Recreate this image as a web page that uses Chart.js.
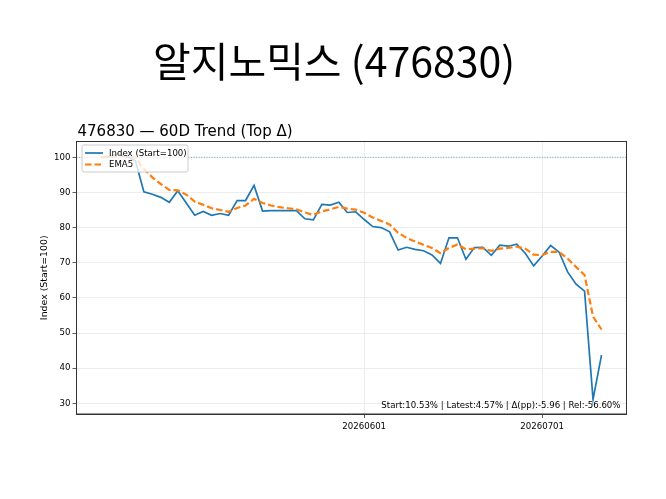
<!DOCTYPE html>
<html>
<head>
<meta charset="utf-8">
<script src="https://cdn.jsdelivr.net/npm/chart.js@4.4.1/dist/chart.umd.min.js"></script>
<style>
  html, body { margin: 0; padding: 0; background: #ffffff; }
  #wrap { width: 666px; height: 499px; }
</style>
</head>
<body>
<div id="wrap"><canvas id="c" width="666" height="499"></canvas></div>
<script>
// ---- data ----
const titleText = '알지노믹스 (476830)';
const subtitleText = '476830 — 60D Trend (Top Δ)';
const yAxisTitle = 'Index (Start=100)';
const statsText = 'Start:10.53% | Latest:4.57% | Δ(pp):-5.96 | Rel:-56.60%';
const seriesNames = ['Index (Start=100)', 'EMA5'];

const dates = [
  '20260414','20260415','20260416','20260417','20260420','20260421','20260422','20260423','20260424','20260427',
  '20260428','20260429','20260430','20260504','20260506','20260507','20260508','20260511','20260512','20260513',
  '20260514','20260515','20260518','20260519','20260520','20260521','20260522','20260526','20260527','20260528',
  '20260529','20260601','20260602','20260604','20260605','20260608','20260609','20260610','20260611','20260612',
  '20260615','20260616','20260617','20260618','20260619','20260622','20260623','20260624','20260625','20260626',
  '20260629','20260630','20260701','20260702','20260703','20260706','20260707','20260708','20260709','20260710'
];

const indexValues = [
  100.0, 100.3, 101.0, 100.2, 99.0, 90.2, 89.5, 88.6, 87.2, 90.5,
  87.0, 83.5, 84.6, 83.5, 84.0, 83.5, 87.7, 87.7, 92.0, 84.7,
  84.8, 84.8, 84.8, 84.8, 82.5, 82.2, 86.6, 86.4, 87.2, 84.3,
  84.5, 82.3, 80.3, 80.0, 78.8, 73.6, 74.4, 73.8, 73.4, 72.2,
  69.8, 77.1, 77.1, 71.0, 74.3, 74.4, 72.1, 75.0, 74.7, 75.3,
  72.7, 69.1, 71.9, 74.9, 73.0, 67.4, 63.9, 61.9, 31.1, 43.7
];

const ema5Values = [
  100.0, 100.1, 100.4, 100.3, 99.9, 96.7, 94.3, 92.4, 90.7, 90.6,
  89.4, 87.4, 86.5, 85.5, 85.0, 84.5, 85.6, 86.3, 88.2, 87.0,
  86.3, 85.8, 85.5, 85.2, 84.3, 83.6, 84.6, 85.2, 85.9, 85.4,
  85.1, 84.2, 82.9, 81.9, 80.9, 78.5, 77.1, 76.0, 75.1, 74.2,
  72.7, 74.2, 75.2, 73.8, 74.0, 74.1, 73.4, 74.0, 74.2, 74.6,
  74.0, 72.3, 72.2, 73.1, 73.1, 71.2, 68.8, 66.5, 54.7, 51.0
];

const baselineValue = 100;
const xTickDates = ['20260601', '20260701'];
const yTickValues = [30, 40, 50, 60, 70, 80, 90, 100];

// ---- chart ----
const FONT = "'DejaVu Sans', sans-serif";
const SMALL = 8.6;
const TEXT = '#000000';
const nPts = dates.length;
const xMargin = (nPts - 1) * 0.05;

const toXY = arr => arr.map((v, i) => ({ x: i, y: v }));

const decorPlugin = {
  id: 'decor',
  afterDatasetsDraw(chart) {
    const { ctx, chartArea: a } = chart;
    ctx.save();
    // frame
    ctx.strokeStyle = '#333333';
    ctx.lineWidth = 1;
    ctx.strokeRect(a.left, a.top, a.right - a.left, a.bottom - a.top);

    // stats text bottom-right
    ctx.fillStyle = TEXT;
    ctx.font = SMALL + "px " + FONT;
    ctx.textAlign = 'right';
    ctx.textBaseline = 'alphabetic';
    ctx.fillText(statsText, a.right - 6, a.bottom - 6.5);

    // legend box
    const lx = a.left + 5.5, ly = a.top + 3.5, lw = 106, lh = 27;
    ctx.fillStyle = 'rgba(255,255,255,0.8)';
    ctx.strokeStyle = '#cccccc';
    ctx.lineWidth = 1;
    ctx.beginPath();
    if (ctx.roundRect) ctx.roundRect(lx, ly, lw, lh, 2); else ctx.rect(lx, ly, lw, lh);
    ctx.fill();
    ctx.stroke();

    const ds = chart.data.datasets;
    const rows = [ly + 8, ly + 19.5];
    for (let k = 0; k < 2; k++) {
      const d = ds[k];
      ctx.strokeStyle = d.borderColor;
      ctx.lineWidth = d.borderWidth;
      ctx.setLineDash(d.borderDash || []);
      ctx.beginPath();
      ctx.moveTo(lx + 3, rows[k]);
      ctx.lineTo(lx + 21, rows[k]);
      ctx.stroke();
      ctx.setLineDash([]);
      ctx.fillStyle = TEXT;
      ctx.font = SMALL + "px " + FONT;
      ctx.textAlign = 'left';
      ctx.textBaseline = 'middle';
      ctx.fillText(seriesNames[k], lx + 27, rows[k] + 0.5);
    }
    ctx.restore();
  },
  afterDraw(chart) {
    const { ctx, chartArea: a } = chart;
    ctx.save();
    ctx.fillStyle = '#000000';
    ctx.font = "41px 'Noto Sans CJK KR', sans-serif";
    ctx.textAlign = 'center';
    ctx.textBaseline = 'middle';
    ctx.fillText(titleText, 334, 61);

    ctx.font = "15px " + FONT;
    ctx.textAlign = 'left';
    ctx.textBaseline = 'alphabetic';
    ctx.fillStyle = TEXT;
    ctx.fillText(subtitleText, 77.5, 136);

    // y-axis title
    ctx.translate(45, (a.top + a.bottom) / 2);
    ctx.rotate(-Math.PI / 2);
    ctx.font = "9.4px " + FONT;
    ctx.textAlign = 'center';
    ctx.textBaseline = 'middle';
    ctx.fillStyle = TEXT;
    ctx.fillText(yAxisTitle, 0, 0);
    ctx.restore();
  }
};

new Chart(document.getElementById('c'), {
  type: 'line',
  data: {
    datasets: [
      {
        label: seriesNames[0],
        data: toXY(indexValues),
        borderColor: '#1f77b4',
        borderWidth: 1.7,
        pointRadius: 0,
        tension: 0,
        order: 1
      },
      {
        label: seriesNames[1],
        data: toXY(ema5Values),
        borderColor: '#ff7f0e',
        borderWidth: 2.2,
        borderDash: [6.5, 3],
        pointRadius: 0,
        tension: 0,
        order: 0
      },
      {
        label: 'baseline',
        data: [{ x: -xMargin, y: baselineValue }, { x: nPts - 1 + xMargin, y: baselineValue }],
        borderColor: 'rgba(31,119,180,0.6)',
        borderWidth: 1,
        borderDash: [1, 1.6],
        pointRadius: 0,
        order: 2
      }
    ]
  },
  options: {
    responsive: false,
    animation: false,
    devicePixelRatio: 1,
    layout: { padding: { left: 0, top: 141.5, right: 39.5, bottom: 55 } },
    plugins: {
      legend: { display: false },
      title: { display: false },
      tooltip: { enabled: false }
    },
    scales: {
      x: {
        type: 'linear',
        min: -xMargin,
        max: nPts - 1 + xMargin,
        afterBuildTicks(scale) {
          scale.ticks = xTickDates.map(d => ({ value: dates.indexOf(d) }));
        },
        afterFit(scale) { scale.height = 30; },
        ticks: {
          autoSkip: false,
          maxRotation: 0,
          padding: 4,
          color: TEXT,
          font: { family: FONT, size: SMALL },
          callback: (v) => dates[v]
        },
        grid: {
          color: '#e8e8e8',
          lineWidth: 0.8,
          tickColor: '#333333',
          tickLength: 4,
          drawTicks: true
        },
        border: { color: '#333333', width: 1 }
      },
      y: {
        type: 'linear',
        min: 26.95,
        max: 104.5,
        afterBuildTicks(scale) {
          scale.ticks = yTickValues.map(v => ({ value: v }));
        },
        afterFit(scale) { scale.width = 76.5; },
        ticks: {
          padding: 2,
          color: TEXT,
          font: { family: FONT, size: SMALL }
        },
        grid: {
          color: '#e8e8e8',
          lineWidth: 0.8,
          tickColor: '#333333',
          tickLength: 4,
          drawTicks: true
        },
        border: { color: '#333333', width: 1 }
      }
    }
  },
  plugins: [decorPlugin]
});
</script>
</body>
</html>
